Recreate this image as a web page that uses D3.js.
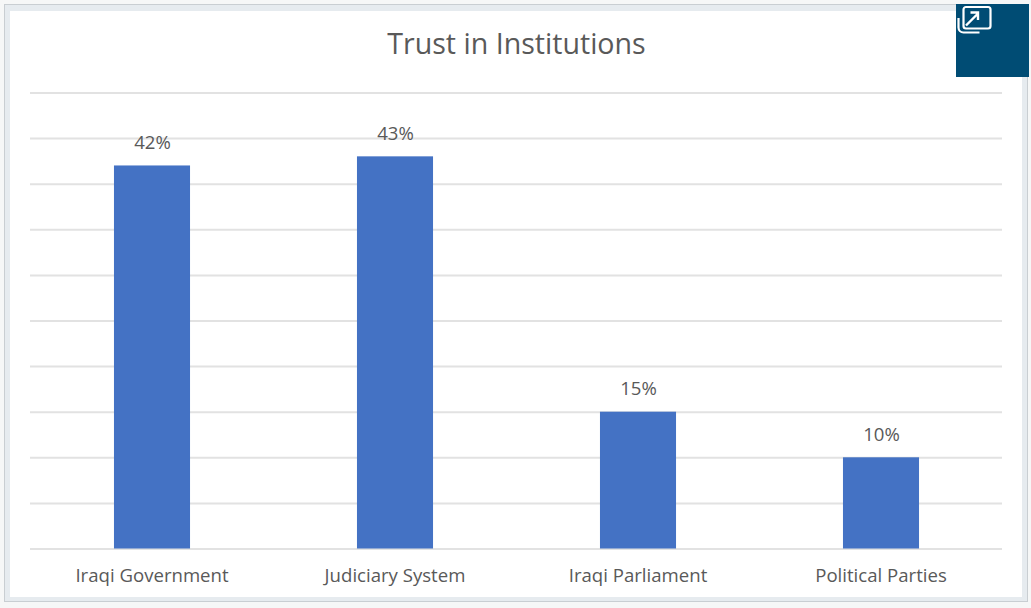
<!DOCTYPE html>
<html>
<head>
<meta charset="utf-8">
<script src="https://cdn.jsdelivr.net/npm/d3@7"></script>
<style>
  html, body { margin: 0; padding: 0; background: #f6f7f7; }
  svg { display: block; }
  text { font-family: "Open Sans", sans-serif; fill: #595959; }
</style>
</head>
<body>
<svg id="chart" width="1031" height="608"></svg>
<script>
const chartTitle = "Trust in Institutions";
const categories = ["Iraqi Government", "Judiciary System", "Iraqi Parliament", "Political Parties"];
const trustValues = [42, 43, 15, 10];
const gridTicks = [0, 5, 10, 15, 20, 25, 30, 35, 40, 45, 50];

const svg = d3.select("#chart");

// Card frame around the chart
svg.append("rect").attr("x", 4).attr("y", 4).attr("width", 1024).attr("height", 598).attr("fill", "#c9ced2");
svg.append("rect").attr("x", 5).attr("y", 5).attr("width", 1022).attr("height", 596).attr("fill", "#e6ebef");
svg.append("rect").attr("x", 10).attr("y", 11).attr("width", 1012).attr("height", 586).attr("fill", "#ffffff");

const x = d3.scaleBand().domain(categories).range([30.5, 1002.5]).paddingInner(0.687).paddingOuter(0.3435);
const y = d3.scaleLinear().domain([0, 50]).range([548.5, 92.5]);

// Horizontal gridlines
svg.append("g")
  .attr("transform", "translate(30,0)")
  .call(d3.axisLeft(y).tickValues(gridTicks).tickSize(-972).tickFormat(""))
  .call(g => g.select(".domain").remove())
  .call(g => g.selectAll("line").attr("stroke", "#e2e2e2").attr("stroke-width", 2));

// Bars
svg.append("g").selectAll("rect")
  .data(trustValues)
  .join("rect")
  .attr("x", (d, i) => x(categories[i]))
  .attr("y", d => y(d))
  .attr("width", x.bandwidth())
  .attr("height", d => y(0) - y(d))
  .attr("fill", "#4472c4");

// Value labels above the bars
svg.append("g").selectAll("text")
  .data(trustValues)
  .join("text")
  .attr("x", (d, i) => x(categories[i]) + x.bandwidth() / 2 + 0.5)
  .attr("y", d => y(d) - 16.5)
  .attr("text-anchor", "middle")
  .attr("font-size", 18.6)
  .text(d => d + "%");

// Category axis labels
svg.append("g")
  .attr("transform", "translate(0,548.5)")
  .call(d3.axisBottom(x).tickSize(0).tickPadding(20))
  .call(g => g.select(".domain").remove())
  .call(g => g.selectAll("text")
    .attr("font-size", 18.6)
    .attr("font-family", "'Open Sans', sans-serif")
    .attr("fill", "#595959"));

// Title
svg.append("text")
  .attr("x", 516.5)
  .attr("y", 54)
  .attr("text-anchor", "middle")
  .attr("font-size", 28.6)
  .text(chartTitle);

// Expand badge in the top-right corner
const badge = svg.append("g");
badge.append("rect").attr("x", 956).attr("y", 4).attr("width", 73).attr("height", 73).attr("fill", "#004c74");
badge.append("rect").attr("x", 963.5).attr("y", 7).attr("width", 27).attr("height", 21.5).attr("rx", 2.5)
  .attr("fill", "none").attr("stroke", "#ffffff").attr("stroke-width", 2.2);
badge.append("path").attr("d", "M958.5 18v9.5a5 5 0 0 0 5 5h16")
  .attr("fill", "none").attr("stroke", "#ffffff").attr("stroke-width", 2.2);
badge.append("path").attr("d", "M966 25.5L977.5 14M970.5 12.5h7.5v7.5")
  .attr("fill", "none").attr("stroke", "#ffffff").attr("stroke-width", 2.4);
</script>
</body>
</html>
